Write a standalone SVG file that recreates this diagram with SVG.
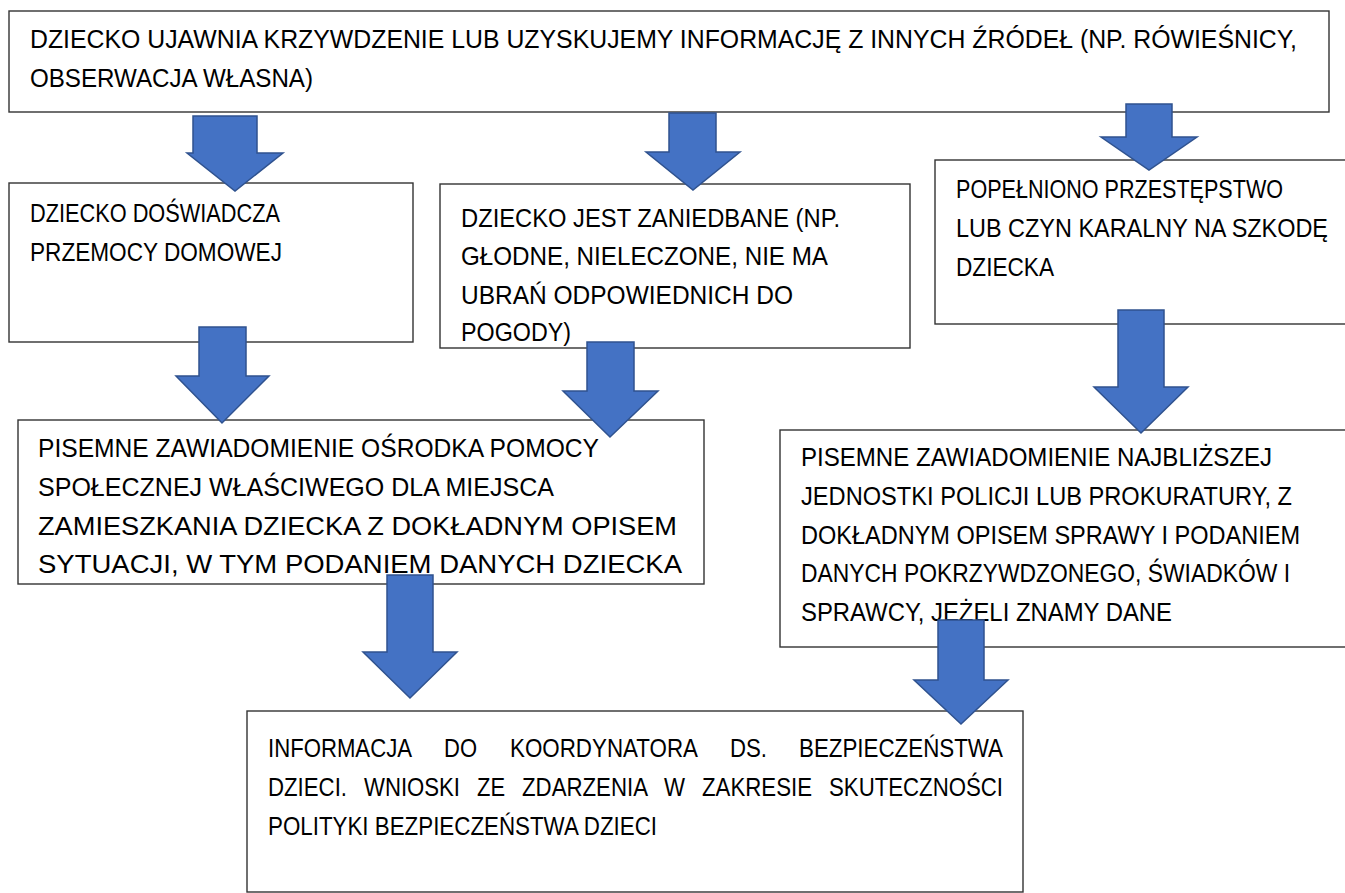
<svg xmlns="http://www.w3.org/2000/svg" width="1345" height="893" viewBox="0 0 1345 893">
<style>
.box{fill:#fff;stroke:#333;stroke-width:1.4}
.t{font-family:"Liberation Sans",Arial,sans-serif;font-size:26px;fill:#000}
.arr{fill:#4472C4;stroke:#2F528F;stroke-width:1.5;stroke-linejoin:miter}
</style>
<rect width="1345" height="893" fill="#fff"/>
<g id="n1">
<rect class="box" x="9" y="11" width="1320" height="101"/>
<text class="t" x="30" y="48" textLength="1267" lengthAdjust="spacingAndGlyphs">DZIECKO UJAWNIA KRZYWDZENIE LUB UZYSKUJEMY INFORMACJĘ Z INNYCH ŹRÓDEŁ (NP. RÓWIEŚNICY,</text>
<text class="t" x="30" y="87" textLength="283" lengthAdjust="spacingAndGlyphs">OBSERWACJA WŁASNA)</text>
</g>
<g id="n2">
<rect class="box" x="9" y="183" width="404" height="159"/>
<text class="t" x="30" y="222" textLength="250" lengthAdjust="spacingAndGlyphs">DZIECKO DOŚWIADCZA</text>
<text class="t" x="30" y="261" textLength="252" lengthAdjust="spacingAndGlyphs">PRZEMOCY DOMOWEJ</text>
</g>
<g id="n3">
<rect class="box" x="440" y="184" width="470" height="164"/>
<text class="t" x="461" y="227" textLength="379" lengthAdjust="spacingAndGlyphs">DZIECKO JEST ZANIEDBANE (NP.</text>
<text class="t" x="461" y="265" textLength="367" lengthAdjust="spacingAndGlyphs">GŁODNE, NIELECZONE, NIE MA</text>
<text class="t" x="461" y="304" textLength="332" lengthAdjust="spacingAndGlyphs">UBRAŃ ODPOWIEDNICH DO</text>
<text class="t" x="461" y="341" textLength="110" lengthAdjust="spacingAndGlyphs">POGODY)</text>
</g>
<g id="n4">
<rect class="box" x="935" y="160" width="420" height="164"/>
<text class="t" x="956" y="198" textLength="327" lengthAdjust="spacingAndGlyphs">POPEŁNIONO PRZESTĘPSTWO</text>
<text class="t" x="956" y="237" textLength="372" lengthAdjust="spacingAndGlyphs">LUB CZYN KARALNY NA SZKODĘ</text>
<text class="t" x="956" y="276" textLength="98" lengthAdjust="spacingAndGlyphs">DZIECKA</text>
</g>
<g id="n5">
<rect class="box" x="18" y="420" width="686" height="164"/>
<text class="t" x="38" y="457" textLength="561" lengthAdjust="spacingAndGlyphs">PISEMNE ZAWIADOMIENIE OŚRODKA POMOCY</text>
<text class="t" x="38" y="496" textLength="516" lengthAdjust="spacingAndGlyphs">SPOŁECZNEJ WŁAŚCIWEGO DLA MIEJSCA</text>
<text class="t" x="38" y="535" textLength="639" lengthAdjust="spacingAndGlyphs">ZAMIESZKANIA DZIECKA Z DOKŁADNYM OPISEM</text>
<text class="t" x="38" y="573" textLength="644" lengthAdjust="spacingAndGlyphs">SYTUACJI, W TYM PODANIEM DANYCH DZIECKA</text>
</g>
<g id="n6">
<rect class="box" x="780" y="430" width="575" height="217"/>
<text class="t" x="801" y="466" textLength="471" lengthAdjust="spacingAndGlyphs">PISEMNE ZAWIADOMIENIE NAJBLIŻSZEJ</text>
<text class="t" x="801" y="505" textLength="491" lengthAdjust="spacingAndGlyphs">JEDNOSTKI POLICJI LUB PROKURATURY, Z</text>
<text class="t" x="801" y="544" textLength="499" lengthAdjust="spacingAndGlyphs">DOKŁADNYM OPISEM SPRAWY I PODANIEM</text>
<text class="t" x="801" y="582" textLength="489" lengthAdjust="spacingAndGlyphs">DANYCH POKRZYWDZONEGO, ŚWIADKÓW I</text>
<text class="t" x="801" y="621" textLength="371" lengthAdjust="spacingAndGlyphs">SPRAWCY, JEŻELI ZNAMY DANE</text>
</g>
<g id="n7">
<rect class="box" x="247" y="711" width="776" height="181"/>
<text class="t" x="268" y="757" textLength="144" lengthAdjust="spacingAndGlyphs">INFORMACJA</text>
<text class="t" x="444" y="757" textLength="33" lengthAdjust="spacingAndGlyphs">DO</text>
<text class="t" x="510" y="757" textLength="188" lengthAdjust="spacingAndGlyphs">KOORDYNATORA</text>
<text class="t" x="730" y="757" textLength="37" lengthAdjust="spacingAndGlyphs">DS.</text>
<text class="t" x="799" y="757" textLength="204" lengthAdjust="spacingAndGlyphs">BEZPIECZEŃSTWA</text>
<text class="t" x="268" y="796" textLength="79" lengthAdjust="spacingAndGlyphs">DZIECI.</text>
<text class="t" x="364" y="796" textLength="96" lengthAdjust="spacingAndGlyphs">WNIOSKI</text>
<text class="t" x="477" y="796" textLength="28" lengthAdjust="spacingAndGlyphs">ZE</text>
<text class="t" x="522" y="796" textLength="126" lengthAdjust="spacingAndGlyphs">ZDARZENIA</text>
<text class="t" x="664" y="796" textLength="21" lengthAdjust="spacingAndGlyphs">W</text>
<text class="t" x="702" y="796" textLength="110" lengthAdjust="spacingAndGlyphs">ZAKRESIE</text>
<text class="t" x="829" y="796" textLength="174" lengthAdjust="spacingAndGlyphs">SKUTECZNOŚCI</text>
<text class="t" x="268" y="835" textLength="389" lengthAdjust="spacingAndGlyphs">POLITYKI BEZPIECZEŃSTWA DZIECI</text>
</g>
<g id="connectors">
<polygon class="arr" points="193,116 257,116 257,153 283,153 235,191 187,153 193,153"/>
<polygon class="arr" points="669,113 716,113 716,152 740,152 693,190 646,152 669,152"/>
<polygon class="arr" points="1126,104 1172,104 1172,137 1197,137 1149,170 1101,137 1126,137"/>
<polygon class="arr" points="199,327 246,327 246,376 269,376 222,423 176,376 199,376"/>
<polygon class="arr" points="587,342 634,342 634,391 658,391 610,437 563,391 587,391"/>
<polygon class="arr" points="1118,310 1164,310 1164,387 1188,387 1141,433 1094,387 1118,387"/>
<polygon class="arr" points="387,575 433,575 433,652 457,652 410,698 363,652 387,652"/>
<polygon class="arr" points="938,620 984,620 984,680 1008,680 961,724 914,680 938,680"/>
</g>
</svg>
